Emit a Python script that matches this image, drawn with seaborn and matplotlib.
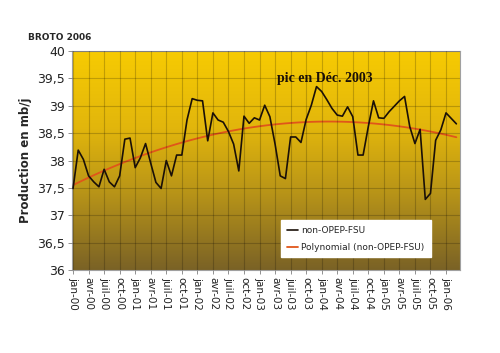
import numpy as np
import pandas as pd
import seaborn as sns
import matplotlib.pyplot as plt
from matplotlib.colors import LinearSegmentedColormap

# ---------- DONNEES ---------- #
# production mensuelle non-OPEP-FSU, jan-00 -> mar-06 (mb/j)
production = [
    37.49, 38.19, 38.02, 37.72, 37.61, 37.52, 37.84, 37.61, 37.52, 37.72, 38.39, 38.41,
    37.87, 38.05, 38.31, 37.95, 37.60, 37.49, 38.00, 37.72, 38.10, 38.10, 38.74, 39.13,
    39.10, 39.09, 38.36, 38.87, 38.74, 38.70, 38.53, 38.30, 37.81, 38.81, 38.68, 38.78,
    38.74, 39.01, 38.80, 38.30, 37.72, 37.67, 38.43, 38.43, 38.33, 38.75, 39.01, 39.35,
    39.26, 39.11, 38.95, 38.83, 38.81, 38.98, 38.80, 38.10, 38.10, 38.62, 39.09, 38.78,
    38.77, 38.89, 38.99, 39.09, 39.17, 38.62, 38.31, 38.57, 37.29, 37.40, 38.37, 38.56,
    38.87, 38.77, 38.67,
]
trimestres = ["jan", "avr", "juil", "oct"]
annees = ["00", "01", "02", "03", "04", "05", "06"]
y_ticks = [36, 36.5, 37, 37.5, 38, 38.5, 39, 39.5, 40]
# ----------------------------- #

mois = np.arange(len(production))
df = pd.DataFrame({"mois": mois, "prod": production})

# tendance polynomiale d'ordre 2 (comme Excel)
coef = np.polyfit(df["mois"], df["prod"], 2)
df["tendance"] = np.polyval(coef, df["mois"])

x_labels = [f"{t}-{a}" for a in annees for t in trimestres][:25]
x_pos = np.arange(0, 3 * len(x_labels), 3)

sns.set_style("white")
plt.rcParams["font.family"] = ["DejaVu Sans"]

fig = plt.figure(figsize=(5, 3.53), dpi=100)
ax = fig.add_axes([0.144, 0.235, 0.776, 0.6205])

xmin, xmax = -0.2, 74.7
# fond degrade jaune -> brun
cmap = LinearSegmentedColormap.from_list(
    "fond", [(0.0, "#7a6226"), (0.35, "#b89418"), (0.65, "#e2b60c"), (1.0, "#f7cb02")])
grad = np.linspace(0, 1, 256).reshape(-1, 1)
ax.imshow(grad, extent=[xmin, xmax, 36, 40], origin="lower", aspect="auto",
          cmap=cmap, zorder=0)

sns.lineplot(data=df, x="mois", y="prod", ax=ax, color="#1a1008", lw=1.2,
             label="non-OPEP-FSU", zorder=3)
sns.lineplot(data=df, x="mois", y="tendance", ax=ax, color="#e0561a", lw=1.3,
             label="Polynomial (non-OPEP-FSU)", zorder=2)

ax.set_xlim(xmin, xmax)
ax.set_ylim(36, 40)
ax.set_xticks(x_pos)
ax.set_xticklabels(x_labels, rotation=270, fontsize=7.5, color="#222222")
ax.set_yticks(y_ticks)
ax.set_yticklabels([f"{v:g}".replace(".", ",") for v in y_ticks], fontsize=9, color="#222222")
ax.tick_params(axis="both", length=3, width=0.6, color="#808080", pad=2, direction="out",
               bottom=True, left=True)
ax.grid(True, color="black", alpha=0.2, lw=0.8, zorder=1)
ax.set_axisbelow(False)
for s in ax.spines.values():
    s.set_color("#a0a0a0")
    s.set_linewidth(0.8)

ax.set_xlabel("")
ax.set_ylabel("Production en mb/j", fontsize=8.5, fontweight="bold", labelpad=4)

ax.text(0.528, 0.874, "pic en Déc. 2003", transform=ax.transAxes, ha="left", va="center",
        fontsize=10, fontweight="bold", family=["Liberation Serif"], color="#1a1008", zorder=4)
fig.text(0.056, 0.895, "BROTO 2006", fontsize=6.5, fontweight="bold", ha="left", va="center")

leg = ax.legend(loc="upper left", bbox_to_anchor=(0.528, 0.11, 0.408, 0.137), mode="expand",
                fontsize=6.5, frameon=True, fancybox=False, framealpha=1, edgecolor="white",
                handlelength=1.2, handletextpad=0.4, borderpad=0.6, labelspacing=0.9)
leg.set_zorder(5)

plt.savefig("out.png", dpi=100)
